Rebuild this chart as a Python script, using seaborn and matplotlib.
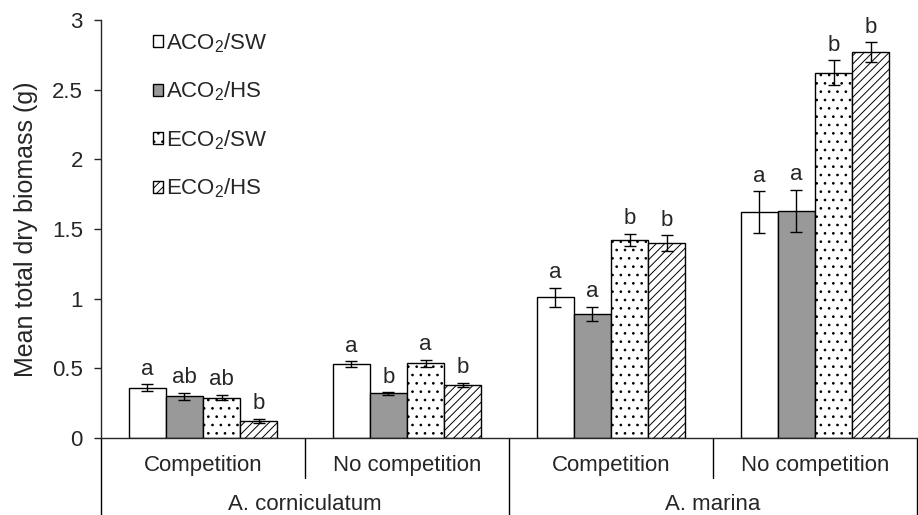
import numpy as np
import pandas as pd
import matplotlib
matplotlib.use('Agg')
import matplotlib.pyplot as plt
import seaborn as sns

# values
species = ['A. corniculatum', 'A. corniculatum', 'A. marina', 'A. marina']
treatment = ['Competition', 'No competition', 'Competition', 'No competition']
groups = ['ACO$_2$/SW', 'ACO$_2$/HS', 'ECO$_2$/SW', 'ECO$_2$/HS']
means = [
    [0.36, 0.30, 0.29, 0.12],
    [0.53, 0.32, 0.535, 0.38],
    [1.01, 0.89, 1.42, 1.40],
    [1.62, 1.63, 2.62, 2.77],
]
errs = [
    [0.025, 0.025, 0.02, 0.015],
    [0.02, 0.008, 0.025, 0.015],
    [0.07, 0.05, 0.045, 0.055],
    [0.15, 0.15, 0.09, 0.07],
]
letters = [
    ['a', 'ab', 'ab', 'b'],
    ['a', 'b', 'a', 'b'],
    ['a', 'a', 'b', 'b'],
    ['a', 'a', 'b', 'b'],
]
fills = ['white', '#999999', 'white', 'white']
hatches = ['', '', '..', '////']

sns.set_style('ticks')
plt.rcParams['font.family'] = ['Liberation Sans', 'DejaVu Sans']
plt.rcParams['mathtext.fontset'] = 'custom'
plt.rcParams['mathtext.rm'] = 'Liberation Sans'
plt.rcParams['mathtext.it'] = 'Liberation Sans'
plt.rcParams['hatch.linewidth'] = 0.7

rows = []
for i in range(len(treatment)):
    for j, g in enumerate(groups):
        rows.append({'cat': i, 'group': g, 'mean': means[i][j], 'err': errs[i][j],
                     'letter': letters[i][j]})
df = pd.DataFrame(rows)

fig = plt.figure(figsize=(9.18, 5.15), dpi=100)
ax = fig.add_axes([101 / 918, 77 / 515, 816 / 918, 418 / 515])

sns.barplot(data=df, x='cat', y='mean', hue='group', hue_order=groups,
            width=0.73, ax=ax, legend=False, errorbar=None,
            edgecolor='black', linewidth=1.0)

bars = list(ax.containers)
for k, cont in enumerate(bars):
    sub = df[df['group'] == groups[k]].reset_index(drop=True)
    xs = []
    for p in cont.patches:
        p.set_facecolor(fills[k])
        p.set_hatch(hatches[k])
        p.set_edgecolor('black')
        xs.append(p.get_x() + p.get_width() / 2)
    xs = np.array(xs)
    ax.errorbar(xs, sub['mean'], yerr=sub['err'], fmt='none', ecolor='black',
                elinewidth=1.0, capsize=4.5, capthick=1.0, zorder=5)
    for x, m, e, t in zip(xs, sub['mean'], sub['err'], sub['letter']):
        ax.annotate(t, (x, m + e), xytext=(0, 7), textcoords='offset points',
                    ha='center', va='baseline', fontsize=16)

ax.set_ylim(0, 3)
ax.set_xlim(-0.5, 3.5)
ax.set_yticks(np.arange(0, 3.01, 0.5))
ax.set_yticklabels(['0', '0.5', '1', '1.5', '2', '2.5', '3'], fontsize=16)
ax.set_ylabel('Mean total dry biomass (g)', fontsize=18, labelpad=10)
ax.set_xticks([])
ax.set_xlabel('')
ax.tick_params(axis='y', length=5, width=1, direction='out', pad=8)
for s in ['top', 'right']:
    ax.spines[s].set_visible(False)
ax.spines['left'].set_linewidth(1.0)
ax.spines['bottom'].set_linewidth(1.0)

# category table below the bars
trans = ax.get_xaxis_transform()
kw = dict(color='black', lw=1.0, clip_on=False, transform=trans)
low = -77 / 418
mid = -40 / 418
ax.plot([-0.5, -0.5], [0, low], **kw)
ax.plot([3.5, 3.5], [0, low], **kw)
ax.plot([1.5, 1.5], [0, low], **kw)
ax.plot([0.5, 0.5], [0, mid], **kw)
ax.plot([2.5, 2.5], [0, mid], **kw)
for i, t in enumerate(treatment):
    ax.text(i, -27 / 418, t, transform=trans, ha='center', va='center', fontsize=16)
for c, sp in zip([0.5, 2.5], ['A. corniculatum', 'A. marina']):
    ax.text(c, -67 / 418, sp, transform=trans, ha='center', va='center', fontsize=16)

ax.legend(bars, groups, loc='upper left', bbox_to_anchor=(0.047, 1.005),
          frameon=False, fontsize=16, handlelength=0.45, handleheight=0.45,
          handletextpad=0.15, labelspacing=1.12, borderaxespad=0.2)

plt.savefig('out.png', dpi=100)
